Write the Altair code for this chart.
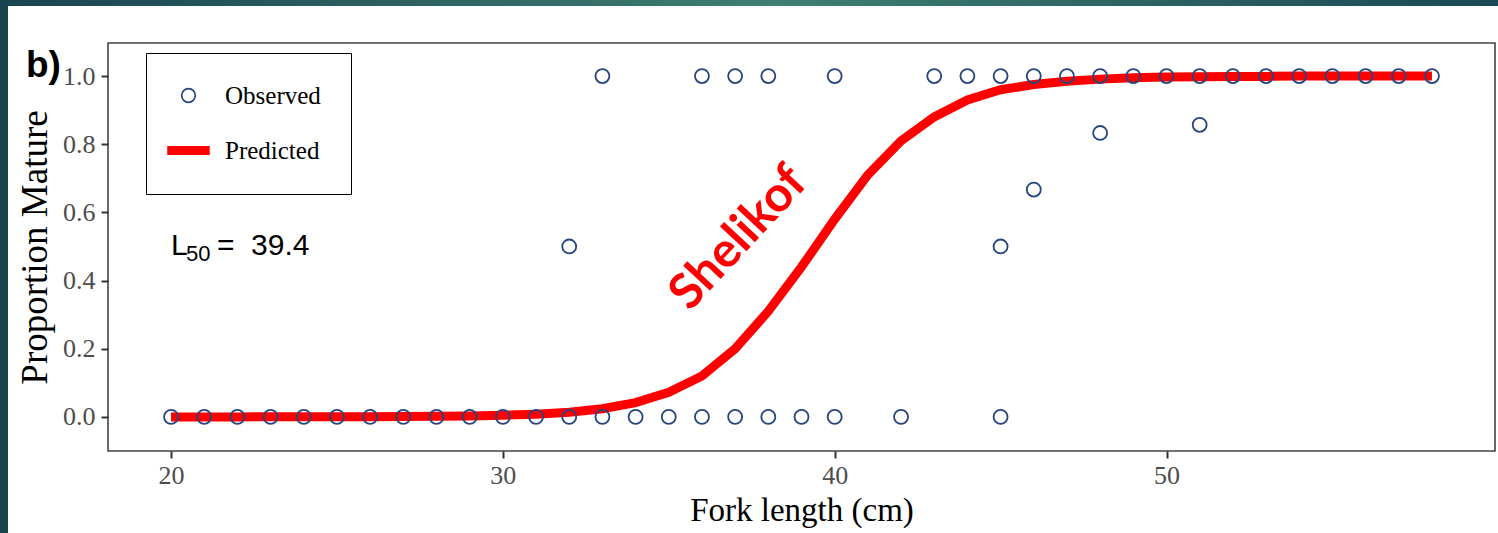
import altair as alt
import pandas as pd

# ---------------- data ----------------
obs_length = [20, 21, 22, 23, 24, 25, 26, 27, 28, 29, 30, 31, 32, 33, 34, 35, 36, 37, 38, 39, 40, 42, 45,
              33, 36, 37, 38, 40, 43, 44, 45, 46, 47, 48, 49, 50, 51, 52, 53, 54, 55, 56, 57, 58,
              32, 45, 46, 48, 51]
obs_prop = [0.0] * 23 + [1.0] * 21 + [0.5, 0.5, 0.667, 0.833, 0.857]

pred_length = list(range(20, 59))
pred_prop = [0.0001, 0.0001, 0.0001, 0.0002, 0.0003, 0.0005, 0.0008, 0.001, 0.002, 0.003,
             0.005, 0.008, 0.014, 0.024, 0.042, 0.072, 0.12, 0.20, 0.31, 0.44,
             0.58, 0.71, 0.81, 0.88, 0.93, 0.96, 0.975, 0.985, 0.991, 0.995,
             0.997, 0.998, 0.999, 0.999, 1.0, 1.0, 1.0, 1.0, 1.0]

series_names = ["Observed", "Predicted"]
x_ticks = [20, 30, 40, 50]
y_ticks = [0.0, 0.2, 0.4, 0.6, 0.8, 1.0]

# L50 annotation: main letter, subscript, equals sign, value
l50_parts = ["L", "50", "=", "39.4"]
l50_x = [20]
l50_y = [0.5]

region_text = ["Shelikof"]
region_x = [37.1]
region_y = [0.525]

panel_label = "b)"

# ---------------- styling ----------------
NAVY = "#26457f"
RED = "#ff0000"
SERIF = "Liberation Serif"
SANS = "Liberation Sans"
W, H = 1387, 408

obs_df = pd.DataFrame({"length": obs_length, "prop": obs_prop, "series": "Observed"})
pred_df = pd.DataFrame({"length": pred_length, "prop": pred_prop})
l50_df = pd.DataFrame({"x": l50_x, "y": l50_y})
region_df = pd.DataFrame({"text": region_text, "x": region_x, "y": region_y})
one = pd.DataFrame({"k": [0]})

xscale = alt.Scale(domain=[18.1, 59.9], nice=False, zero=False)
yscale = alt.Scale(domain=[-0.1, 1.097], nice=False, zero=False)

xaxis = alt.Axis(values=x_ticks, title="Fork length (cm)", grid=False, domain=False,
                 labelFont=SERIF, labelFontSize=26, labelColor="#4d4d4d", labelPadding=4,
                 tickSize=7, tickWidth=2, tickColor="#333333",
                 titleFont=SERIF, titleFontSize=33, titleFontWeight="normal", titleColor="black",
                 titlePadding=6)
yaxis = alt.Axis(values=y_ticks, format=".1f", title="Proportion Mature", grid=False, domain=False,
                 labelFont=SERIF, labelFontSize=26, labelColor="#4d4d4d", labelPadding=6,
                 tickSize=7, tickWidth=2, tickColor="#333333",
                 titleFont=SERIF, titleFontSize=37, titleFontWeight="normal", titleColor="black",
                 titlePadding=8)

bar_path = "M-3.0,-0.55H3.0V0.55H-3.0Z"
legend = alt.Legend(title=None, orient="none", legendX=38, legendY=10,
                    strokeColor="black", padding=30,
                    labelFont=SERIF, labelFontSize=25, labelColor="black", labelOffset=24,
                    symbolSize=185, symbolStrokeWidth=1.7, rowPadding=29)

line = alt.Chart(pred_df).mark_line(color=RED, strokeWidth=9, strokeCap="butt").encode(
    x=alt.X("length:Q", scale=xscale, axis=xaxis),
    y=alt.Y("prop:Q", scale=yscale, axis=yaxis),
)

points = alt.Chart(obs_df).mark_point(size=195, strokeWidth=1.8, opacity=1).encode(
    x=alt.X("length:Q", scale=xscale),
    y=alt.Y("prop:Q", scale=yscale),
    fill=alt.Fill("series:N", scale=alt.Scale(domain=series_names, range=["transparent", RED]), legend=legend),
    stroke=alt.Stroke("series:N", scale=alt.Scale(domain=series_names, range=[NAVY, RED]), legend=legend),
    shape=alt.Shape("series:N", scale=alt.Scale(domain=series_names, range=["circle", bar_path]), legend=legend),
)


def l50_piece(text, size, dx, dy=0):
    return alt.Chart(l50_df).mark_text(font=SANS, fontSize=size, align="left", baseline="middle",
                                       color="black", text=text, dx=dx, dy=dy).encode(
        x=alt.X("x:Q", scale=xscale), y=alt.Y("y:Q", scale=yscale))


l50_main = l50_piece(l50_parts[0], 30, 0)
l50_sub = l50_piece(l50_parts[1], 22, 15, 8)
l50_eq = l50_piece(l50_parts[2], 30, 46)
l50_val = l50_piece(l50_parts[3], 30, 80)

region = alt.Chart(region_df).mark_text(font="Lato", fontSize=49, fontWeight="bold", align="center",
                                        baseline="middle", angle=313, color=RED).encode(
    x=alt.X("x:Q", scale=xscale), y=alt.Y("y:Q", scale=yscale), text="text:N")

# panel label "b)" left of the plot
panel = alt.Chart(one).mark_text(font=SANS, fontSize=37, fontWeight="bold", align="left",
                                 baseline="alphabetic", color="black", text=panel_label).encode(
    x=alt.value(-82), y=alt.value(34))

# slide frame strips (outside the plot)
top_strip = alt.Chart(one).mark_rect(
    color=alt.Gradient(gradient="linear", x1=0, x2=1, y1=0, y2=0,
                       stops=[alt.GradientStop(color="#1a4350", offset=0),
                              alt.GradientStop(color="#3f7e71", offset=0.52),
                              alt.GradientStop(color="#1b4854", offset=1)])
).encode(x=alt.value(-108), x2=alt.value(W + 3), y=alt.value(-43), y2=alt.value(-37))

left_strip = alt.Chart(one).mark_rect(color="#184450").encode(
    x=alt.value(-108), x2=alt.value(-100), y=alt.value(-43), y2=alt.value(H + 82))

chart = alt.layer(line, points, l50_main, l50_sub, l50_eq, l50_val, region, panel,
                  top_strip, left_strip).properties(
    width=W, height=H,
    autosize=alt.AutoSizeParams(type="none"),
    padding={"left": 108, "top": 43, "right": 3, "bottom": 82},
    background="white",
).configure_view(stroke="#444444", strokeWidth=1.6).resolve_scale(
    fill="shared", stroke="shared", shape="shared")

chart.save("out.html", embed_options={"renderer": "svg", "actions": False})
